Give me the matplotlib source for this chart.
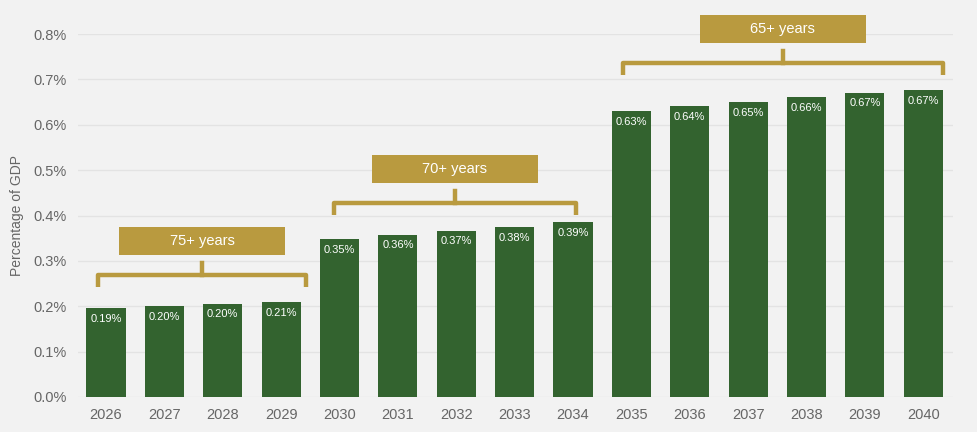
import matplotlib.pyplot as plt
from matplotlib.patches import Rectangle

plt.rcParams['font.family'] = ['Liberation Sans', 'DejaVu Sans']

years = ['2026', '2027', '2028', '2029', '2030', '2031', '2032', '2033', '2034',
         '2035', '2036', '2037', '2038', '2039', '2040']
values = [0.196, 0.200, 0.205, 0.209, 0.348, 0.357, 0.366, 0.374, 0.385,
          0.630, 0.641, 0.650, 0.661, 0.670, 0.676]
labels = ['0.19%', '0.20%', '0.20%', '0.21%', '0.35%', '0.36%', '0.37%', '0.38%', '0.39%',
          '0.63%', '0.64%', '0.65%', '0.66%', '0.67%', '0.67%']

group_names = ['75+ years', '70+ years', '65+ years']
group_start = [-0.14, 3.9, 8.85]
group_end = [3.43, 8.05, 14.34]
group_level = [0.269, 0.428, 0.736]

BG = '#f2f2f2'
GREEN = '#33632f'
GOLD = '#b99a3f'

fig = plt.figure(figsize=(9.77, 4.32), dpi=100, facecolor=BG)
ax = fig.add_axes([78 / 977, 1 - 397 / 432, (953 - 78) / 977, (397 - 34) / 432])
ax.set_facecolor(BG)

x = list(range(len(years)))
ax.bar(x, values, width=0.67, color=GREEN, zorder=3)
for xi, v, lab in zip(x, values, labels):
    ax.text(xi, v - 0.012, lab, ha='center', va='top', color='white',
            fontsize=8, zorder=4)

# age brackets
for name, s, e, lvl in zip(group_names, group_start, group_end, group_level):
    mid = (s + e) / 2
    ax.plot([s, s, e, e], [lvl - 0.026, lvl, lvl, lvl - 0.026], color=GOLD,
            lw=3.2, solid_joinstyle='round', solid_capstyle='butt', clip_on=False, zorder=5)
    ax.plot([mid, mid], [lvl, lvl + 0.027], color=GOLD, lw=3.2, clip_on=False, zorder=5)
    bw = 2.84
    ax.add_patch(Rectangle((mid - bw / 2, lvl + 0.044), bw, 0.062, facecolor=GOLD,
                           edgecolor='none', clip_on=False, zorder=5))
    ax.text(mid, lvl + 0.075, name, ha='center', va='center', color='white',
            fontsize=10.5, clip_on=False, zorder=6)

ax.set_xlim(-0.48, 14.51)
ax.set_ylim(0, 0.8)
ax.set_xticks(x)
ax.set_xticklabels(years)
ax.set_yticks([i / 10 for i in range(9)])
ax.set_yticklabels([f'{i / 10:.1f}%' for i in range(9)])
ax.tick_params(colors='#666666', labelsize=10.5, length=0, pad=8)
ax.grid(axis='y', color='#e3e3e3', lw=1, zorder=0)
for sp in ax.spines.values():
    sp.set_visible(False)
ax.set_ylabel('Percentage of GDP', color='#666666', fontsize=10)
ax.yaxis.set_label_coords(-0.062, 0.5)

fig.savefig('out.png', dpi=100, facecolor=BG)
